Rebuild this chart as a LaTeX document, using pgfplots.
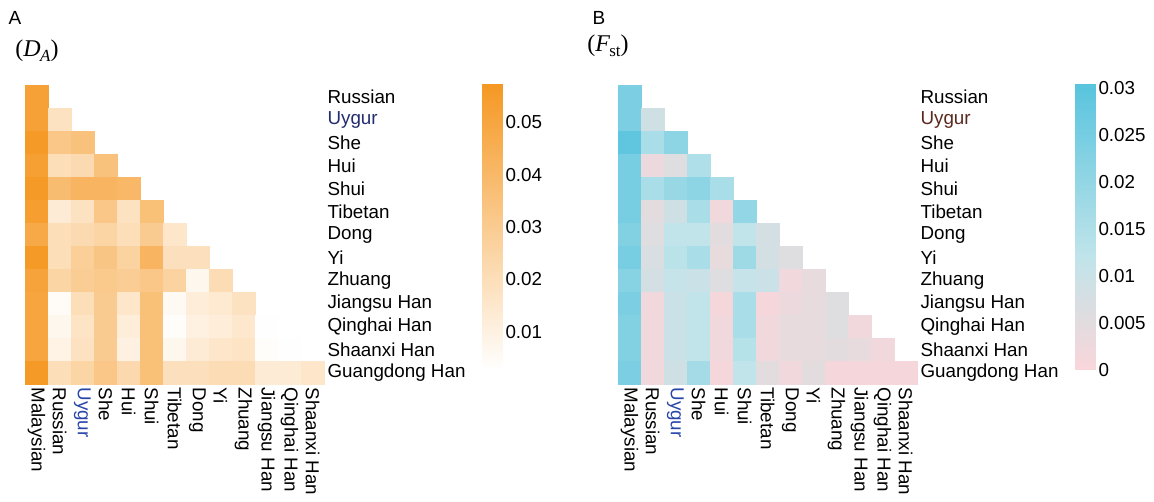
\documentclass[border=0pt]{standalone}
\usepackage{fontspec}
\setmainfont{Liberation Sans}
\newfontfamily\timesfont{Liberation Serif}
\usepackage{pgfplots}
\pgfplotsset{compat=1.18}
\usepackage{pgfplotstable}

\definecolor{uyrowA}{RGB}{35,45,110}
\definecolor{uyrowB}{RGB}{90,40,30}
\definecolor{uycol}{RGB}{40,70,170}

% Pairwise genetic distances (lower triangle): column index, row index, D_A, F_st
\pgfplotstableread{
col row da fst
0 0 0.052 0.024
0 1 0.052 0.024
1 1 0.018 0.009
0 2 0.056 0.029
1 2 0.032 0.016
2 2 0.035 0.021
0 3 0.053 0.025
1 3 0.020 0.003
2 3 0.022 0.006
3 3 0.035 0.015
0 4 0.056 0.025
1 4 0.038 0.016
2 4 0.042 0.019
3 4 0.042 0.021
4 4 0.040 0.016
0 5 0.054 0.025
1 5 0.013 0.005
2 5 0.018 0.009
3 5 0.032 0.016
4 5 0.018 0.002
5 5 0.036 0.020
0 6 0.048 0.023
1 6 0.020 0.006
2 6 0.022 0.012
3 6 0.025 0.012
4 6 0.020 0.005
5 6 0.030 0.012
6 6 0.016 0.008
0 7 0.056 0.025
1 7 0.020 0.007
2 7 0.028 0.013
3 7 0.033 0.016
4 7 0.026 0.004
5 7 0.042 0.018
6 7 0.019 0.008
7 7 0.019 0.006
0 8 0.051 0.022
1 8 0.025 0.008
2 8 0.029 0.011
3 8 0.031 0.010
4 8 0.029 0.006
5 8 0.032 0.011
6 8 0.026 0.010
7 8 0.007 0.002
8 8 0.021 0.004
0 9 0.050 0.024
1 9 0.005 0.002
2 9 0.020 0.010
3 9 0.030 0.012
4 9 0.016 0.001
5 9 0.036 0.016
6 9 0.006 0.001
7 9 0.012 0.003
8 9 0.014 0.004
9 9 0.018 0.006
0 10 0.050 0.023
1 10 0.007 0.002
2 10 0.017 0.010
3 10 0.030 0.012
4 10 0.012 0.002
5 10 0.036 0.016
6 10 0.004 0.002
7 10 0.010 0.004
8 10 0.012 0.004
9 10 0.015 0.006
10 10 0.003 0.002
0 11 0.050 0.023
1 11 0.009 0.002
2 11 0.018 0.010
3 11 0.030 0.012
4 11 0.010 0.002
5 11 0.036 0.014
6 11 0.007 0.002
7 11 0.013 0.004
8 11 0.016 0.004
9 11 0.017 0.005
10 11 0.004 0.004
11 11 0.003 0.002
0 12 0.056 0.024
1 12 0.020 0.002
2 12 0.025 0.009
3 12 0.032 0.017
4 12 0.023 0.001
5 12 0.036 0.012
6 12 0.019 0.005
7 12 0.019 0.002
8 12 0.021 0.005
9 12 0.021 0.001
10 12 0.013 0.001
11 12 0.013 0.001
12 12 0.016 0.001
}\distances

\newcommand\lbl{\fontsize{18.8}{20}\selectfont}

\pgfplotsset{
  colormap={da}{rgb255(0cm)=(255,255,255); rgb255(1cm)=(245,152,35)},
  colormap={fst}{rgb255(0cm)=(250,214,218); rgb255(6cm)=(222,221,224);
                 rgb255(12cm)=(192,228,234); rgb255(30.4cm)=(88,196,222)},
  tri/.style={
    scale only axis, width=299pt, height=299pt,
    xmin=-0.5, xmax=12.5, ymin=-0.5, ymax=12.5,
    axis line style={draw=none}, major tick length=0pt,
    xtick={0,...,12}, ytick={0,...,12},
    xticklabel style={rotate=-90, anchor=west, font=\lbl},
    yticklabel pos=right,
    yticklabel style={anchor=west, font=\lbl},
    clip=false,
  },
  % a free-standing colour scale: one gradient strip with labels on its right
  cbar/.style={
    scale only axis, width=20pt, height=286pt, anchor=south west,
    xmin=0, xmax=1, enlargelimits=false,
    axis line style={draw=none}, major tick length=0pt,
    xtick=\empty, scaled y ticks=false,
    yticklabel pos=right,
    yticklabel style={anchor=west, font=\lbl},
  },
  cell/.style={
    scatter, only marks, mark=square*, mark size=11.5pt, line width=0.3pt,
    point meta=explicit,
    scatter/use mapped color={draw=mapped color, fill=mapped color},
  },
}

\begin{document}
\begin{tikzpicture}[x=1pt,y=1pt]

% Panel A: Nei's D_A
\begin{axis}[tri,
  at={(25pt,117pt)}, anchor=south west,
  colormap name=da,
  point meta min=0.0027, point meta max=0.0573,
  xticklabels={Malaysian,Russian,\textcolor{uycol}{Uygur},She,Hui,Shui,Tibetan,Dong,Yi,Zhuang,Jiangsu Han,Qinghai Han,Shaanxi Han},
  yticklabels={Guangdong Han,Shaanxi Han,Qinghai Han,Jiangsu Han,Zhuang,Yi,Dong,Tibetan,Shui,Hui,She,\textcolor{uyrowA}{Uygur},Russian},
]
\addplot[cell] table[x=col, y expr={12-\thisrow{row}}, meta=da] {\distances};
\end{axis}

% colour scale of panel A
\begin{axis}[cbar,
  at={(482pt,131pt)},
  colormap name=da,
  ymin=0.0027, ymax=0.0573,
  point meta min=0.0027, point meta max=0.0573,
  ytick={0.01,0.02,0.03,0.04,0.05},
  yticklabels={0.01,0.02,0.03,0.04,0.05},
]
\addplot[surf, shader=interp, mesh/cols=2, point meta=y] coordinates {
  (0,0.0027) (1,0.0027)
  (0,0.0573) (1,0.0573)
};
\end{axis}

% Panel B: F_st
\begin{axis}[tri,
  at={(618pt,117pt)}, anchor=south west,
  colormap name=fst,
  point meta min=0, point meta max=0.0304,
  xticklabels={Malaysian,Russian,\textcolor{uycol}{Uygur},She,Hui,Shui,Tibetan,Dong,Yi,Zhuang,Jiangsu Han,Qinghai Han,Shaanxi Han},
  yticklabels={Guangdong Han,Shaanxi Han,Qinghai Han,Jiangsu Han,Zhuang,Yi,Dong,Tibetan,Shui,Hui,She,\textcolor{uyrowB}{Uygur},Russian},
]
\addplot[cell] table[x=col, y expr={12-\thisrow{row}}, meta=fst] {\distances};
\end{axis}

% colour scale of panel B
\begin{axis}[cbar,
  at={(1075pt,131pt)},
  colormap name=fst,
  ymin=0, ymax=0.0304,
  point meta min=0, point meta max=0.0304,
  ytick={0,0.005,0.01,0.015,0.02,0.025,0.03},
  yticklabels={0,0.005,0.01,0.015,0.02,0.025,0.03},
]
\addplot[surf, shader=interp, mesh/cols=2, point meta=y] coordinates {
  (0,0) (1,0)
  (0,0.006) (1,0.006)
  (0,0.012) (1,0.012)
  (0,0.0304) (1,0.0304)
};
\end{axis}

% Panel letters and measure names
\node[font=\fontsize{19}{20}\selectfont] at (15,483) {A};
\node[font=\timesfont\fontsize{24}{26}\selectfont] at (37,450) {(\textit{D}\kern-0.5pt\raisebox{-5pt}{\fontsize{17}{18}\selectfont\textit{A}})};
\node[font=\fontsize{19}{20}\selectfont] at (599,483) {B};
\node[font=\timesfont\fontsize{24}{26}\selectfont] at (608,455) {(\textit{F}\kern-1pt\raisebox{-5pt}{\fontsize{17}{18}\selectfont st})};

\pgfresetboundingbox
\useasboundingbox (0,0) rectangle (1154,501);
\end{tikzpicture}
\end{document}
